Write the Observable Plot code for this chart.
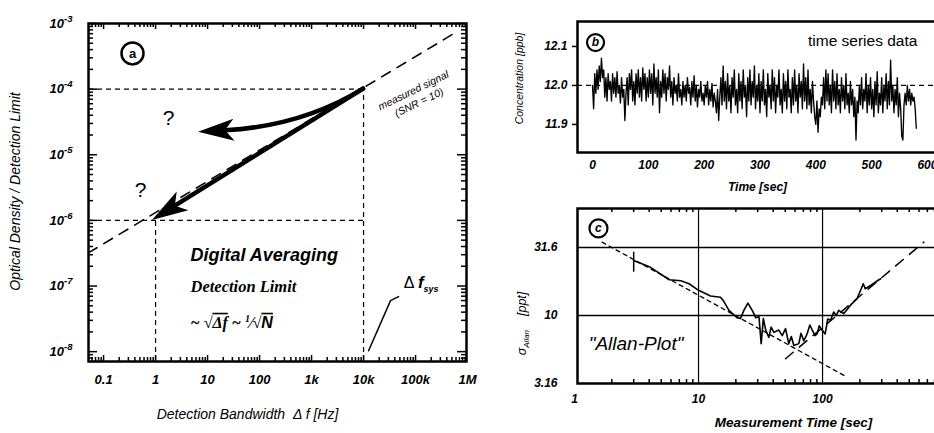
<!DOCTYPE html>
<html><head><meta charset="utf-8">
<script src="https://cdn.jsdelivr.net/npm/d3@7"></script>
<script src="https://cdn.jsdelivr.net/npm/@observablehq/plot@0.6"></script>
<style>
html,body{margin:0;padding:0;background:#fff;overflow:hidden;}
#wrap{position:relative;width:934px;height:433px;overflow:hidden;background:#fff;}
#wrap > svg{position:absolute;max-width:none;}
</style></head><body><div id="wrap"></div>
<script>
// ===== Panel (a): optical density / detection limit vs detection bandwidth =====
const bwTicks = [0.1, 1, 10, 100, 1000, 10000, 100000, 1000000];
const bwTickLabels = ["0.1", "1", "10", "100", "1k", "10k", "100k", "1M"];
const odTicks = [1e-8, 1e-7, 1e-6, 1e-5, 1e-4, 1e-3];
const odTickLabels = ["10^-8", "10^-7", "10^-6", "10^-5", "10^-4", "10^-3"];
const signalBw = [0.051, 590000];          // measured signal line (dashed)
const signalOd = [3.2e-7, 7.3e-4];
const guideLevel = [1e-4, 1e-6];           // dashed guides
const guideBw = [1e4, 1];
const arrowFrom = [[1e4, 1e-4], [1e4, 1e-4]];
const arrowVia = [[690, 2.7e-5], null];
const arrowTo = [[6.7, 2.2e-5], [0.87, 1.0e-6]];
const questionBw = [1.78, 0.515];
const questionOd = [3.6e-5, 2.85e-6];
const pointerBw = [12500, 33000, 47000];
const pointerOd = [1.03e-8, 6.0e-8, 6.9e-8];

// ===== Panel (b): time series =====
const timeStep = 2; // seconds between samples
const concentration = [
12.00,11.94,12.03,11.98,12.04,11.99,12.05,12.01,12.07,12.02,
12.04,11.97,12.02,11.96,12.03,11.99,12.01,11.96,12.03,11.98,
12.02,11.97,12.035,11.98,12.00,11.955,12.02,11.97,11.99,11.91,
11.98,12.02,11.95,12.03,11.99,12.04,11.96,12.01,11.95,12.03,
11.98,12.04,11.97,12.02,11.96,12.045,11.99,12.03,11.96,12.02,
11.97,12.04,11.98,12.03,11.95,12.055,11.98,12.02,11.97,12.04,
11.93,12.01,11.97,12.04,11.98,12.03,11.96,12.02,11.99,12.05,
11.97,12.01,11.95,12.02,11.98,12.00,11.96,12.03,11.97,11.99,
11.95,12.01,11.97,12.00,11.96,12.02,11.98,11.995,11.95,12.01,
11.97,12.025,11.96,12.00,11.945,11.99,11.97,12.01,11.96,11.98,
11.95,12.00,11.97,12.01,11.95,11.99,11.96,12.005,11.945,11.98,
11.96,11.93,11.99,11.91,11.97,12.02,11.95,12.05,11.96,12.01,
11.94,12.03,11.96,12.00,11.93,12.02,11.97,12.04,11.95,11.99,
11.93,12.03,11.96,12.01,11.94,12.04,11.97,12.00,11.92,12.02,
11.96,12.04,11.95,12.01,11.97,12.05,11.94,12.00,11.96,12.03,
11.93,12.01,11.96,12.04,11.95,11.99,11.92,12.03,11.97,12.00,
11.94,12.04,11.96,12.02,11.93,12.00,11.97,12.04,11.95,11.99,
11.93,12.03,11.96,12.01,11.94,12.04,11.97,11.99,11.93,12.02,
11.95,12.04,11.96,12.00,11.93,12.03,11.97,12.01,11.94,12.055,
11.96,12.02,11.94,12.04,11.95,11.99,11.93,12.01,11.96,11.92,
11.90,11.96,11.88,11.94,11.92,11.97,11.95,12.02,11.94,12.04,
11.96,12.03,11.95,12.00,11.93,12.04,11.96,12.01,11.94,12.03,
11.95,11.99,11.93,12.02,11.96,12.00,11.94,12.03,11.95,11.98,
11.93,12.01,11.95,11.99,11.92,11.97,11.86,11.96,11.93,12.00,
11.95,12.02,11.94,11.99,11.96,12.03,11.93,12.00,11.95,12.02,
11.94,11.99,11.92,12.01,11.95,12.035,11.93,11.98,11.95,12.02,
11.93,12.00,11.96,12.03,11.94,12.01,11.95,12.065,11.96,12.00,
11.93,11.99,11.95,12.02,11.92,11.98,11.94,11.87,11.86,11.95,
11.98,11.95,12.00,11.96,11.99,11.95,11.98,11.96,11.97,11.94,11.89
];
const timeTicks = [0, 100, 200, 300, 400, 500, 600];
const concTicks = [11.9, 12.0, 12.1];
const concTickLabels = ["11.9", "12.0", "12.1"];
const concMean = 12.0;

// ===== Panel (c): Allan plot =====
const allanTau = [3.0,4.1,5.8,7.2,8.4,10,12.5,15,15.8,17.6,20.5,21.8,23.2,25,27.1,29,30.7,32,33.3,34.8,36.9,38.5,40.5,44.4,47.3,50.3,53.4,56,58.7,64.4,67,70.6,75,79,82.6,87,90.5,94,99,105,110,116,123,129,135,148,168,190,213,221,244,267,294];
const allanSigma = [25.4,22.6,18.3,18.0,17.1,15.3,13.9,13.6,12.9,10.9,9.6,9.5,10.9,12.3,10.9,9.6,9.8,6.2,9.5,7.8,6.9,8.2,7.5,7.8,7.1,8.0,6.2,7.0,6.0,6.2,7.4,6.5,7.3,8.5,7.8,7.1,7.3,8.4,7.8,7.3,9.4,9.2,10.6,10.0,10.9,10.3,11.9,13.3,17.1,15.7,16.6,17.6,18.6];
const tauTicks = [1, 10, 100];
const tauTickLabels = ["1", "10", "100"];
const sigmaTicks = [3.16, 10, 31.6];
const sigmaTickLabels = ["3.16", "10", "31.6"];
const whiteNoiseTau = [1.67, 148.6], whiteNoiseSigma = [34.6, 3.62];
const driftTau = [50.3, 656], driftSigma = [4.8, 34.6];
const errTau = [3.0], errLow = [20.8], errHigh = [29.2];

// ===== helpers =====
const FONT = "'Liberation Sans', Arial, Helvetica, sans-serif";
const SERIF = "'Liberation Serif', 'Times New Roman', serif";
const baseStyle = {fontFamily: FONT, fontSize: "11px", color: "#000", background: "transparent", overflow: "visible"};
const isPow10 = v => Math.abs(Math.log10(v) - Math.round(Math.log10(v))) < 1e-9;
function logTicks(lo, hi) {
  const out = [];
  for (let e = Math.floor(Math.log10(lo)); e <= Math.ceil(Math.log10(hi)); e++)
    for (let k = 1; k < 10; k++) { const v = k * 10 ** e; if (v >= lo && v <= hi) out.push(v); }
  return out;
}
const labelOf = (ticks, labels) => d => { const i = ticks.findIndex(t => Math.abs(t - d) <= 1e-6 * Math.abs(t)); return i < 0 ? "" : labels[i]; };
// short tick marks on the frame edge, drawn as rules inset to a fixed length (innerW/innerH = frame size in px)
function edgeTicks(side, values, len, innerW, innerH, sw = 1.5) {
  const o = {stroke: "#000", strokeWidth: sw};
  if (side === "bottom") return Plot.ruleX(values, {x: d => d, insetTop: innerH - len, ...o});
  if (side === "top") return Plot.ruleX(values, {x: d => d, insetBottom: innerH - len, ...o});
  if (side === "left") return Plot.ruleY(values, {y: d => d, insetRight: innerW - len, ...o});
  return Plot.ruleY(values, {y: d => d, insetLeft: innerW - len, ...o});
}
function arrowsMark(froms, vias, tos, {shaftWidth = 4.5, headLength = 36, headHalfWidth = 11} = {}) {
  return (index, scales) => {
    const {x, y} = scales;
    const g = d3.create("svg:g");
    froms.forEach((f, i) => {
      const p0 = [x(f[0]), y(f[1])], p2 = [x(tos[i][0]), y(tos[i][1])];
      const p1 = vias[i] ? [x(vias[i][0]), y(vias[i][1])] : null;
      const r = p1 || p0;
      let ux = p2[0] - r[0], uy = p2[1] - r[1]; const L = Math.hypot(ux, uy); ux /= L; uy /= L;
      const nx = -uy, ny = ux;
      const bx = p2[0] - ux * headLength, by = p2[1] - uy * headLength;
      const mx = p2[0] - ux * headLength * 0.75, my = p2[1] - uy * headLength * 0.75;
      const sh = p1 ? `M${p0}Q${p1} ${mx},${my}` : `M${p0}L${mx},${my}`;
      g.append("path").attr("d", sh).attr("fill", "none").attr("stroke", "#000").attr("stroke-width", shaftWidth).attr("stroke-linecap", "round");
      g.append("path").attr("d", `M${p2}L${bx + nx * headHalfWidth},${by + ny * headHalfWidth}L${mx},${my}L${bx - nx * headHalfWidth},${by - ny * headHalfWidth}Z`).attr("fill", "#000");
    });
    return g.node();
  };
}
function enrich(svg, plain, markup) {
  for (const t of svg.querySelectorAll("text")) if (t.textContent === plain) t.innerHTML = markup;
}
function place(svg, left, top) {
  svg.style.position = "absolute"; svg.style.left = left + "px"; svg.style.top = top + "px";
  document.getElementById("wrap").appendChild(svg);
}

// ===== Panel (a) =====
const xDomA = [10 ** -1.29, 10 ** 5.98];
const yDomA = [10 ** -8.15, 1e-3];
const allXA = logTicks(...xDomA), allYA = logTicks(...yDomA);
const majXA = allXA.filter(isPow10), minXA = allXA.filter(v => !isPow10(v));
const majYA = allYA.filter(isPow10), minYA = allYA.filter(v => !isPow10(v));
const guides = guideLevel.map((l, i) => ({level: l, bw: guideBw[i]}));
const wA = 470 - 88 - 4, hA = 433 - 23 - 72;

const A = Plot.plot({
  width: 470, height: 433,
  marginLeft: 88, marginRight: 4, marginTop: 23, marginBottom: 72,
  x: {type: "log", domain: xDomA},
  y: {type: "log", domain: yDomA},
  style: baseStyle,
  marks: [
    Plot.ruleY(guides, {y: "level", x1: xDomA[0], x2: 1e4, stroke: "#000", strokeWidth: 1.2, strokeDasharray: "5,4"}),
    Plot.ruleX(guides, {x: "bw", y1: yDomA[0], y2: "level", stroke: "#000", strokeWidth: 1.2, strokeDasharray: "5,4"}),
    Plot.line(signalBw.map((b, i) => ({b, o: signalOd[i]})), {x: "b", y: "o", stroke: "#000", strokeWidth: 1.6, strokeDasharray: "10,8"}),
    arrowsMark(arrowFrom, arrowVia, arrowTo),
    Plot.line(pointerBw.map((b, i) => ({b, o: pointerOd[i]})), {x: "b", y: "o", stroke: "#000", strokeWidth: 1.5}),
    edgeTicks("bottom", minXA, 4, wA, hA), edgeTicks("bottom", majXA, 6, wA, hA),
    edgeTicks("top", minXA, 4, wA, hA), edgeTicks("top", majXA, 6, wA, hA),
    edgeTicks("left", minYA, 5, wA, hA), edgeTicks("left", majYA, 9, wA, hA),
    edgeTicks("right", minYA, 5, wA, hA), edgeTicks("right", majYA, 9, wA, hA),
    Plot.frame({stroke: "#000", strokeWidth: 2.5}),
    Plot.axisX({ticks: bwTicks, anchor: "bottom", tickSize: 0, tickPadding: 13, tickFormat: labelOf(bwTicks, bwTickLabels), fontWeight: "bold", fontStyle: "italic", fontSize: 13, label: null}),
    Plot.axisY({ticks: odTicks, anchor: "left", tickSize: 0, tickPadding: 16, tickFormat: labelOf(odTicks, odTickLabels), fontWeight: "bold", fontStyle: "italic", fontSize: 13, label: null}),
    Plot.text(["Optical Density / Detection Limit"], {text: d => d, frameAnchor: "left", textAnchor: "middle", dx: -73, dy: -1, rotate: -90, fontStyle: "italic", fontSize: 14}),
    Plot.text(["Detection Bandwidth  Δ f [Hz]"], {text: d => d, frameAnchor: "bottom", textAnchor: "middle", lineAnchor: "middle", dx: -30, dy: 53, fontStyle: "italic", fontSize: 14}),
    Plot.text(questionBw.map((b, i) => ({b, o: questionOd[i]})), {x: "b", y: "o", text: () => "?", fontSize: 21}),
    Plot.text([{b: 91000, o: 9.5e-5, t: "measured signal"}, {b: 117000, o: 6.25e-5, t: "(SNR = 10)"}], {x: "b", y: "o", text: "t", rotate: -26, fontStyle: "italic", fontSize: 10.5}),
    Plot.dot([{b: 0.36, o: 3.5e-4}], {x: "b", y: "o", r: 11, stroke: "#000", strokeWidth: 2.5, fill: "white"}),
    Plot.text([{b: 0.36, o: 3.5e-4}], {x: "b", y: "o", text: () => "a", fontWeight: "bold", fontSize: 13}),
    Plot.text([{b: 4.7, o: 2.9e-7}], {x: "b", y: "o", text: () => "Digital Averaging", textAnchor: "start", fontWeight: "bold", fontStyle: "italic", fontSize: 18}),
    Plot.text([{b: 4.7, o: 9.8e-8}], {x: "b", y: "o", text: () => "Detection Limit", textAnchor: "start", fontWeight: "bold", fontStyle: "italic", fontSize: 16.5, fontFamily: SERIF}),
    Plot.text([{b: 4.7, o: 2.77e-8}], {x: "b", y: "o", text: () => "~ √Δf ~ 1/√N", textAnchor: "start", fontWeight: "bold", fontStyle: "italic", fontSize: 16, fontFamily: SERIF}),
    Plot.text([{b: 59000, o: 1.13e-7}], {x: "b", y: "o", text: () => "Δ f sys", textAnchor: "start", fontWeight: "bold", fontStyle: "italic", fontSize: 17})
  ]
});
enrich(A, "~ √Δf ~ 1/√N", `~ √<tspan style="text-decoration:overline">Δf</tspan> ~ <tspan font-size="10" dy="-6">1</tspan><tspan dy="6">⁄√</tspan><tspan style="text-decoration:overline" font-family="${FONT}">N</tspan>`);
enrich(A, "Δ f sys", `<tspan font-weight="normal" font-style="normal" font-size="16">Δ </tspan>f<tspan font-size="9" dy="4">sys</tspan>`);
for (const lab of odTickLabels) {
  const [base, exp] = lab.split("^");
  enrich(A, lab, `${base}<tspan font-size="9.5" dy="-6">${exp}</tspan>`);
}
place(A, 0, 0);

// ===== Panel (b) =====
const xDomB = [-26.9, 618], yDomB = [11.828, 12.164];
const wB = 480 - 117 - 3, hB = 200 - 21 - 48;
const B = Plot.plot({
  width: 480, height: 200,
  marginLeft: 117, marginRight: 3, marginTop: 21, marginBottom: 48,
  x: {domain: xDomB},
  y: {domain: yDomB},
  style: baseStyle,
  marks: [
    Plot.ruleY([concMean], {stroke: "#000", strokeWidth: 1.2, strokeDasharray: "5,4"}),
    Plot.line(concentration, {x: (d, i) => i * timeStep, y: d => d, stroke: "#000", strokeWidth: 1.35}),
    Plot.ruleY(concTicks, {y: d => d, insetLeft: -5, insetRight: wB, stroke: "#000", strokeWidth: 1.5}),
    Plot.frame({stroke: "#000", strokeWidth: 2.5}),
    Plot.axisY({ticks: concTicks, anchor: "left", tickSize: 0, tickPadding: 10, tickFormat: labelOf(concTicks, concTickLabels), fontWeight: "bold", fontStyle: "italic", fontSize: 12, label: null}),
    Plot.axisX({ticks: timeTicks, anchor: "bottom", tickSize: 0, tickPadding: 8, tickFormat: d => String(d), fontWeight: "bold", fontStyle: "italic", fontSize: 12, label: null}),
    Plot.text(["Time [sec]"], {text: d => d, frameAnchor: "bottom", textAnchor: "middle", lineAnchor: "middle", dy: 35, fontStyle: "italic", fontWeight: "bold", fontSize: 12}),
    Plot.text(["Concentration [ppb]"], {text: d => d, frameAnchor: "left", textAnchor: "middle", dx: -58, dy: -8.5, rotate: -90, fontStyle: "italic", fontSize: 10.5}),
    Plot.dot([{t: 5.4, c: 12.11}], {x: "t", y: "c", r: 8.5, stroke: "#000", strokeWidth: 2.2, fill: "white"}),
    Plot.text([{t: 5.4, c: 12.11}], {x: "t", y: "c", text: () => "b", fontWeight: "bold", fontStyle: "italic", fontSize: 12}),
    Plot.text([{t: 582, c: 12.115}], {x: "t", y: "c", text: () => "time series data", textAnchor: "end", fontSize: 15.5})
  ]
});
place(B, 460, 0);

// ===== Panel (c) =====
const xDomC = [1.057, 845], yDomC = [3.155, 61.2];
const wC = 480 - 117 - 3, hC = 233 - 8 - 50;
const allXC = logTicks(...xDomC).filter(v => !isPow10(v));
const allan = allanTau.map((t, i) => ({t, s: allanSigma[i]}));
const C = Plot.plot({
  width: 480, height: 233,
  marginLeft: 117, marginRight: 3, marginTop: 8, marginBottom: 50,
  x: {type: "log", domain: xDomC},
  y: {type: "log", domain: yDomC},
  style: baseStyle,
  marks: [
    Plot.ruleY([10, 31.6], {stroke: "#000", strokeWidth: 1.5}),
    Plot.ruleX([10, 100], {stroke: "#000", strokeWidth: 1.2}),
    Plot.line(whiteNoiseTau.map((t, i) => ({t, s: whiteNoiseSigma[i]})), {x: "t", y: "s", stroke: "#000", strokeWidth: 1.3, strokeDasharray: "4,4"}),
    Plot.line(driftTau.map((t, i) => ({t, s: driftSigma[i]})), {x: "t", y: "s", stroke: "#000", strokeWidth: 1.5, strokeDasharray: "10,8"}),
    Plot.ruleX(errTau.map((t, i) => ({t, lo: errLow[i], hi: errHigh[i]})), {x: "t", y1: "lo", y2: "hi", stroke: "#000", strokeWidth: 1.5}),
    Plot.line(allan, {x: "t", y: "s", stroke: "#000", strokeWidth: 1.6}),
    edgeTicks("bottom", allXC, 4, wC, hC), edgeTicks("top", allXC, 4, wC, hC),
    Plot.frame({stroke: "#000", strokeWidth: 2.5}),
    Plot.axisY({ticks: sigmaTicks, anchor: "left", tickSize: 0, tickPadding: 20, tickFormat: labelOf(sigmaTicks, sigmaTickLabels), fontWeight: "bold", fontStyle: "italic", fontSize: 12, label: null}),
    Plot.axisX({ticks: tauTicks, anchor: "bottom", tickSize: 0, tickPadding: 11, tickFormat: labelOf(tauTicks, tauTickLabels), fontWeight: "bold", fontStyle: "italic", fontSize: 12, label: null}),
    Plot.text(["Measurement Time [sec]"], {text: d => d, frameAnchor: "bottom", textAnchor: "middle", lineAnchor: "middle", dx: 36, dy: 39, fontStyle: "italic", fontWeight: "bold", fontSize: 13.5}),
    Plot.text(["sigma title"], {text: d => d, frameAnchor: "left", textAnchor: "middle", dx: -56, dy: 27.5, rotate: -90, fontStyle: "italic", fontSize: 12.5}),
    Plot.text([{t: 1.3, s: 6.2}], {x: "t", y: "s", text: () => "\"Allan-Plot\"", textAnchor: "start", fontStyle: "italic", fontSize: 19}),
    Plot.dot([{t: 1.56, s: 43.7}], {x: "t", y: "s", r: 9, stroke: "#000", strokeWidth: 2.2, fill: "white"}),
    Plot.text([{t: 1.56, s: 43.7}], {x: "t", y: "s", text: () => "c", fontWeight: "bold", fontStyle: "italic", fontSize: 12})
  ]
});
enrich(C, "sigma title", `σ<tspan font-size="8" dy="3">Allan</tspan><tspan dy="-3">    [ppt]</tspan>`);
place(C, 460, 200);
</script></body></html>
